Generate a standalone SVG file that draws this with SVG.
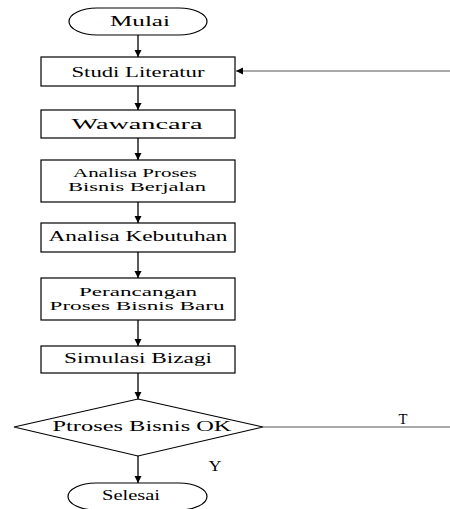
<svg xmlns="http://www.w3.org/2000/svg" width="450" height="509" viewBox="0 0 450 509">
<defs>
<marker id="ah" markerWidth="8" markerHeight="8" refX="7" refY="4" orient="auto" markerUnits="userSpaceOnUse">
<path d="M0,0.5 L7,4 L0,7.5 Z" fill="#000"/>
</marker>
</defs>
<style>
.box{fill:#fff;stroke:#000;stroke-width:1.2}
text{font-family:'Liberation Serif','Times New Roman',serif;font-size:14px;fill:#000;text-anchor:middle}
.s{font-size:12.5px}
.c{fill:none;stroke:#000;stroke-width:1.3}
.g{fill:none;stroke:#555;stroke-width:1}
</style>
<rect width="450" height="509" fill="#fff"/>
<g id="connectors">
<line class="c" x1="138" y1="35" x2="138" y2="57" marker-end="url(#ah)"/>
<line class="c" x1="138" y1="86" x2="138" y2="110" marker-end="url(#ah)"/>
<line class="c" x1="138" y1="138" x2="138" y2="160" marker-end="url(#ah)"/>
<line class="c" x1="138" y1="202" x2="138" y2="223" marker-end="url(#ah)"/>
<line class="c" x1="138" y1="252" x2="138" y2="278" marker-end="url(#ah)"/>
<line class="c" x1="138" y1="320" x2="138" y2="346" marker-end="url(#ah)"/>
<line class="c" x1="138" y1="373" x2="138" y2="399" marker-end="url(#ah)"/>
<line class="c" x1="138" y1="456" x2="138" y2="483" marker-end="url(#ah)"/>
<line class="g" x1="263" y1="427" x2="450" y2="427"/>
<line class="g" x1="450" y1="71" x2="236" y2="71" marker-end="url(#ah)"/>
<text x="403" y="424" textLength="9" lengthAdjust="spacingAndGlyphs">T</text>
<text x="215" y="471" textLength="13" lengthAdjust="spacingAndGlyphs">Y</text>
</g>
<g id="mulai">
<rect class="box" x="69" y="8" width="138" height="27" rx="28" ry="13.5"/>
<text x="140" y="26" textLength="60" lengthAdjust="spacingAndGlyphs">Mulai</text>
</g>
<g id="studi">
<rect class="box" x="41" y="57" width="194" height="29"/>
<text x="138" y="77" textLength="133" lengthAdjust="spacingAndGlyphs">Studi Literatur</text>
</g>
<g id="wawancara">
<rect class="box" x="41" y="110" width="194" height="28"/>
<text x="137" y="129" textLength="131" lengthAdjust="spacingAndGlyphs">Wawancara</text>
</g>
<g id="analisa-proses">
<rect class="box" x="41" y="160" width="194" height="42"/>
<text class="s" x="135" y="177" textLength="124" lengthAdjust="spacingAndGlyphs">Analisa Proses</text>
<text class="s" x="137" y="191" textLength="138" lengthAdjust="spacingAndGlyphs">Bisnis Berjalan</text>
</g>
<g id="analisa-kebutuhan">
<rect class="box" x="41" y="223" width="194" height="29"/>
<text x="138" y="241" textLength="179" lengthAdjust="spacingAndGlyphs">Analisa Kebutuhan</text>
</g>
<g id="perancangan">
<rect class="box" x="41" y="278" width="194" height="42"/>
<text class="s" x="138" y="296" textLength="118" lengthAdjust="spacingAndGlyphs">Perancangan</text>
<text class="s" x="137" y="310" textLength="175" lengthAdjust="spacingAndGlyphs">Proses Bisnis Baru</text>
</g>
<g id="simulasi">
<rect class="box" x="41" y="346" width="194" height="27"/>
<text x="138" y="363" textLength="148" lengthAdjust="spacingAndGlyphs">Simulasi Bizagi</text>
</g>
<g id="decision">
<polygon class="box" points="138,399 263,427 138,456 14,427"/>
<text x="142" y="431" textLength="179" lengthAdjust="spacingAndGlyphs">Ptroses Bisnis OK</text>
</g>
<g id="selesai">
<rect class="box" x="68" y="483" width="139" height="27" rx="28" ry="13.5"/>
<text x="131" y="500" textLength="58" lengthAdjust="spacingAndGlyphs">Selesai</text>
</g>
</svg>
